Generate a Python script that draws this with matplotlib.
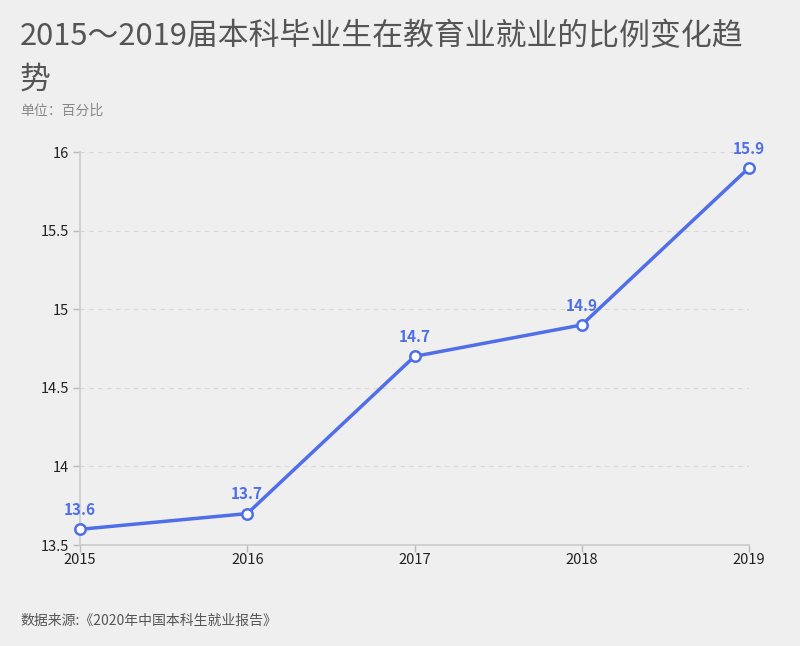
import matplotlib
matplotlib.use("Agg")
import matplotlib.pyplot as plt

years = ["2015", "2016", "2017", "2018", "2019"]
values = [13.6, 13.7, 14.7, 14.9, 15.9]
yticks = [13.5, 14, 14.5, 15, 15.5, 16]
ytick_labels = ["13.5", "14", "14.5", "15", "15.5", "16"]

plt.rcParams['font.family'] = ['Noto Sans CJK SC', 'DejaVu Sans']

bg = "#efefef"
line_color = "#4f6ee8"

fig = plt.figure(figsize=(8, 6.46), dpi=100, facecolor=bg)
ax = fig.add_axes([0.1, 0.1563, 0.83625, 0.6084], facecolor=bg)

x = list(range(len(years)))
ax.plot(x, values, color=line_color, lw=2.5, marker='o', markersize=7.5,
        markerfacecolor='white', markeredgecolor=line_color, markeredgewidth=1.8, zorder=3, clip_on=False)
for xi, v in zip(x, values):
    ax.annotate(f"{v}", (xi, v), xytext=(0, 8), textcoords='offset points',
                ha='center', va='bottom', color=line_color, fontsize=11, fontweight='bold')

ax.set_xlim(0, len(years) - 1)
ax.set_ylim(13.5, 16)
ax.set_xticks(x)
ax.set_xticklabels(years)
ax.set_yticks(yticks)
ax.set_yticklabels(ytick_labels)
ax.tick_params(axis='both', colors='#bbbbbb', labelcolor='#222222', labelsize=10.5, length=5, width=1)
ax.tick_params(axis='x', pad=1)
ax.tick_params(axis='y', pad=3)
ax.grid(axis='y', color='#d8d8d8', linestyle=(0, (4, 4)), lw=0.8)
for s in ['top', 'right']:
    ax.spines[s].set_visible(False)
for s in ['left', 'bottom']:
    ax.spines[s].set_color('#cccccc')
    ax.spines[s].set_linewidth(1.2)

fig.text(0.025, 0.968, "2015～2019届本科毕业生在教育业就业的比例变化趋\n势", ha='left', va='top',
         fontsize=22.2, color='#555555', linespacing=1.52)
fig.text(0.025, 0.829, "单位：百分比", ha='left', va='center', fontsize=10, color='#888888')
fig.text(0.025, 0.039, "数据来源:《2020年中国本科生就业报告》", ha='left', va='center', fontsize=10, color='#555555')

fig.savefig("out.png", dpi=100, facecolor=bg)
